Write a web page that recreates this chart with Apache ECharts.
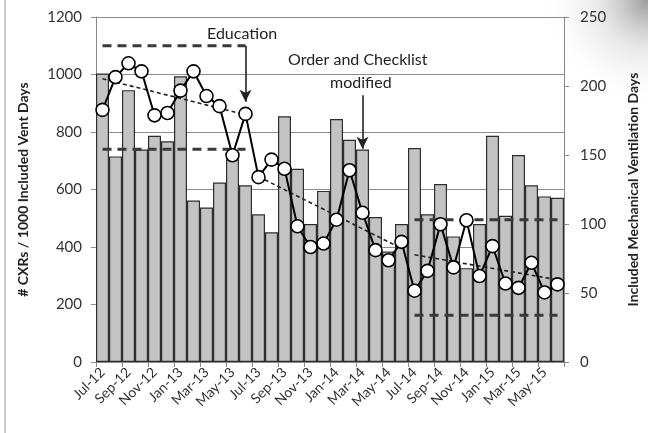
<!DOCTYPE html>
<html>
<head>
<meta charset="utf-8">
<script src="https://cdn.jsdelivr.net/npm/echarts@6.0.0/dist/echarts.min.js"></script>
<style>
html,body{margin:0;padding:0;background:#fff;}
#chart{width:648px;height:433px;}
</style>
</head>
<body>
<div id="chart"></div>
<script>
var months = ['Jul-12','Aug-12','Sep-12','Oct-12','Nov-12','Dec-12','Jan-13','Feb-13','Mar-13','Apr-13','May-13','Jun-13',
              'Jul-13','Aug-13','Sep-13','Oct-13','Nov-13','Dec-13','Jan-14','Feb-14','Mar-14','Apr-14','May-14','Jun-14',
              'Jul-14','Aug-14','Sep-14','Oct-14','Nov-14','Dec-14','Jan-15','Feb-15','Mar-15','Apr-15','May-15','Jun-15'];
// included mechanical ventilation days (right axis)
var ventDays = [209,149,197,154,164,160,207,117,112,130,147,128,
                107,94,178,140,100,124,176,161,154,105,80,100,
                155,107,129,91,68,100,164,106,150,128,120,119];
// # CXRs / 1000 vent days (left axis)
var cxrRate = [877,991,1039,1011,858,866,944,1011,925,890,719,863,
               643,704,672,472,400,412,495,667,519,389,354,418,
               248,317,479,329,493,299,403,273,258,345,242,270];
// trend segments: [start index, end index, start value, end value]
var trend1 = [0,11,985,860];
var trend2 = [12,23,645,395];
var trend3 = [24,35,373,286];
// control limits: [start index, end index, value]
var limitsPre = [[0,11,1100],[0,11,740]];
var limitsPost = [[24,35,495],[24,35,163]];

var FONT = 'Lato';

function segData(s){
    var arr = [];
    for(var i=0;i<months.length;i++){ arr.push(null); }
    arr[s[0]] = s[2];
    arr[s[1]] = s[3];
    return arr;
}
function trendSeries(s){
    return {
        type:'line', yAxisIndex:0, data:segData(s), connectNulls:true,
        symbol:'none', silent:true, z:3,
        lineStyle:{color:'#222',width:1.6,type:[4,3]}
    };
}
function limitSeries(l){
    return {
        type:'line', yAxisIndex:0, data:segData([l[0],l[1],l[2],l[2]]), connectNulls:true,
        symbol:'none', silent:true, z:2,
        lineStyle:{color:'#3a3a3a',width:3,type:[9,6]}
    };
}

var chart = echarts.init(document.getElementById('chart'));
var series = [
    {
        name:'Vent Days', type:'bar', yAxisIndex:1, data:ventDays,
        barCategoryGap:'0%',
        itemStyle:{color:'#c3c3c3',borderColor:'#2e2e2e',borderWidth:1.2},
        z:1
    }
];
limitsPre.concat(limitsPost).forEach(function(l){ series.push(limitSeries(l)); });
[trend1,trend2,trend3].forEach(function(t){ series.push(trendSeries(t)); });
series.push({
    name:'CXR rate', type:'line', yAxisIndex:0, data:cxrRate,
    symbol:'circle', symbolSize:13, showAllSymbol:true, z:5,
    lineStyle:{color:'#000',width:2},
    itemStyle:{color:'#fff',borderColor:'#000',borderWidth:1.6},
    markLine:{
        silent:true, symbol:['none','arrow'], symbolSize:[9,12],
        label:{show:false},
        lineStyle:{color:'#222',width:1.6,type:'solid'},
        data:[
            [{coord:['Jun-13',1100]},{coord:['Jun-13',905]}],
            [{coord:['Mar-14',928]},{coord:['Mar-14',742]}]
        ]
    }
});

var option = {
    animation:false,
    backgroundColor:'#fff',
    grid:{left:96,right:83,top:17,bottom:71},
    graphic:[
        {type:'rect',shape:{x:420,y:0,width:228,height:110},silent:true,z:-10,
         style:{fill:{type:'radial',x:1,y:0,r:1,colorStops:[{offset:0,color:'rgba(120,120,120,0.75)'},{offset:0.45,color:'rgba(190,190,190,0.35)'},{offset:1,color:'rgba(255,255,255,0)'}]}}},
        {type:'line',shape:{x1:5,y1:0,x2:5,y2:433},style:{stroke:'#9a9a9a',lineWidth:1},silent:true},
        {type:'text',left:207,top:26,style:{text:'Education',font:'16px '+FONT,fill:'#222'}},
        {type:'text',left:288,top:52,style:{text:'Order and Checklist',font:'16px '+FONT,fill:'#222'}},
        {type:'text',left:330,top:75,style:{text:'modified',font:'16px '+FONT,fill:'#222'}}
    ],
    xAxis:{
        type:'category', data:months, boundaryGap:true,
        axisLine:{lineStyle:{color:'#8a8a8a',width:1}},
        axisTick:{show:true,interval:1,length:5,lineStyle:{color:'#8a8a8a'}},
        axisLabel:{interval:1,rotate:45,fontSize:14,fontFamily:FONT,color:'#333',margin:8}
    },
    yAxis:[
        {
            type:'value', min:0, max:1200, interval:200,
            name:'# CXRs / 1000 Included Vent Days', nameLocation:'middle', nameGap:66,
            nameTextStyle:{fontSize:14,fontWeight:'bold',fontFamily:FONT,color:'#222'},
            axisLine:{show:true,lineStyle:{color:'#8a8a8a'}},
            axisTick:{show:true,length:5,lineStyle:{color:'#8a8a8a'}},
            axisLabel:{fontSize:15,fontFamily:FONT,color:'#333',margin:14,formatter:function(v){return String(v);}},
            splitLine:{show:true,lineStyle:{color:'#8c8c8c',width:1}}
        },
        {
            type:'value', min:0, max:250, interval:50, position:'right',
            name:'Included Mechanical Ventilation Days', nameLocation:'middle', nameGap:62, nameRotate:90,
            nameTextStyle:{fontSize:14,fontWeight:'bold',fontFamily:FONT,color:'#222'},
            axisLine:{show:true,lineStyle:{color:'#8a8a8a'}},
            axisTick:{show:true,length:5,lineStyle:{color:'#8a8a8a'}},
            axisLabel:{fontSize:15,fontFamily:FONT,color:'#333',margin:16,formatter:function(v){return String(v);}},
            splitLine:{show:false}
        }
    ],
    series:series
};
chart.setOption(option);
</script>
</body>
</html>
